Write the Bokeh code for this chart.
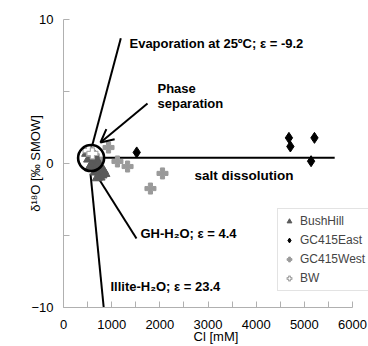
from bokeh.plotting import figure
from bokeh.models import Range1d, Label, Legend, LegendItem, Arrow, OpenHead, FixedTicker
from bokeh.embed import file_html
from bokeh.resources import INLINE

# ---- data ----
bush_cl = [480, 520, 560, 600, 620, 650, 580, 680, 700, 740, 780, 800, 720, 640, 540, 760, 830, 660, 860, 700]
bush_d18o = [0.7, 0.3, 0.9, 0.5, 0.1, -0.2, -0.1, 0.3, -0.4, -0.6, -0.3, -0.8, 0.0, 0.6, -0.3, -0.95, -0.5, -0.6, -0.7, -1.0]

east_cl = [1520, 4680, 4710, 5210, 5140]
east_d18o = [0.77, 1.78, 1.18, 1.78, 0.16]

west_cl = [935, 1120, 1330, 2055, 1805, 700]
west_d18o = [1.11, 0.14, -0.21, -0.69, -1.74, 0.3]

bw_cl = [520, 600]
bw_d18o = [0.9, 0.7]

circle_cl = [573]
circle_d18o = [0.38]

evap_cl = [600, 1190]
evap_d18o = [1.3, 8.7]
gh_cl = [664, 1515]
gh_d18o = [-0.69, -5.21]
illite_cl = [560, 835]
illite_d18o = [-0.7, -10.0]
salt_cl = [830, 5630]
salt_d18o = [0.4, 0.4]
arrow_cl = [1744, 768]
arrow_d18o = [4.17, 1.46]

x_ticks = [0, 1000, 2000, 3000, 4000, 5000, 6000]
y_ticks = [-10, 0, 10]

FONT = "Liberation Sans"

p = figure(width=368, height=346, output_backend="svg", toolbar_location=None,
           x_range=Range1d(0, 6332), y_range=Range1d(-10, 10),
           min_border_left=63, min_border_right=0, min_border_top=19, min_border_bottom=39)
p.outline_line_color = None
p.xgrid.visible = False
p.ygrid.visible = False
p.background_fill_color = "white"

for ax in (p.xaxis[0], p.yaxis[0]):
    ax.axis_line_color = "#b0b0b0"
    ax.major_tick_line_color = "#b0b0b0"
    ax.minor_tick_line_color = "#b0b0b0"
    ax.major_tick_in = 6
    ax.major_tick_out = 0
    ax.minor_tick_in = 6
    ax.minor_tick_out = 0
    ax.major_label_text_font = FONT
    ax.major_label_text_font_size = "13px"
    ax.major_label_text_color = "black"
    ax.axis_label_text_font = FONT
    ax.axis_label_text_font_size = "13px"
    ax.axis_label_text_font_style = "normal"
    ax.axis_label_text_color = "black"

p.xaxis.bounds = (0, 6000)
p.xaxis.ticker = FixedTicker(ticks=x_ticks, minor_ticks=[500, 1500, 2500, 3500, 4500, 5500])
p.yaxis.ticker = FixedTicker(ticks=y_ticks, minor_ticks=[-5, 5])
p.xaxis.major_label_standoff = 12
p.yaxis.major_label_standoff = 10
p.xaxis.axis_label = "Cl [mM]"
p.yaxis.axis_label = "δ¹⁸O [‰ SMOW]"
p.xaxis.axis_label_standoff = -3
p.yaxis.axis_label_standoff = -15

# lines
for xs, ys in [(evap_cl, evap_d18o), (gh_cl, gh_d18o), (illite_cl, illite_d18o), (salt_cl, salt_d18o)]:
    p.line(xs, ys, line_color="black", line_width=2)

p.add_layout(Arrow(end=OpenHead(size=13, line_width=2, line_color="black"),
                   x_start=arrow_cl[0], y_start=arrow_d18o[0], x_end=arrow_cl[1], y_end=arrow_d18o[1],
                   line_width=2, line_color="black"))

r_west = p.scatter(west_cl, west_d18o, marker="plus", size=11, fill_color="#9a9a9a", line_color="#9a9a9a")
r_bush = p.scatter(bush_cl, bush_d18o, marker="triangle", size=10, fill_color="#5a5a5a", line_color="#5a5a5a")
r_bw = p.scatter(bw_cl, bw_d18o, marker="plus", size=11, fill_color="white", line_color="#a8a8a8", line_width=1.2)
r_east = p.scatter(east_cl, east_d18o, marker="diamond", size=11, fill_color="black", line_color="black")

p.scatter(circle_cl, circle_d18o, marker="circle", size=26, fill_color=None, line_color="black", line_width=2.6)

def lab(x, y, t, size="13px"):
    p.add_layout(Label(x=x, y=y, text=t, text_font=FONT, text_font_size=size,
                       text_font_style="bold", text_baseline="middle", text_align="left", text_color="black"))

lab(1370, 8.33, "Evaporation at 25ºC; ε = -9.2")
lab(1951, 5.2, "Phase")
lab(1951, 4.2, "separation")
lab(2720, -0.8, "salt dissolution", "13.5px")
lab(1598, -4.86, "GH-H₂O; ε = 4.4")
lab(976, -8.54, "Illite-H₂O; ε = 23.4")

legend = Legend(items=[LegendItem(label="BushHill", renderers=[r_bush]),
                       LegendItem(label="GC415East", renderers=[r_east]),
                       LegendItem(label="GC415West", renderers=[r_west]),
                       LegendItem(label="BW", renderers=[r_bw])],
                location=(214, 16), label_text_font=FONT, label_text_font_size="12px",
                border_line_color="#c8c8c8", background_fill_alpha=1,
                glyph_width=12, glyph_height=12, label_standoff=5, spacing=5,
                padding=5, margin=0, label_height=14)
p.add_layout(legend)

open("out.html", "w").write(file_html(p, INLINE))
